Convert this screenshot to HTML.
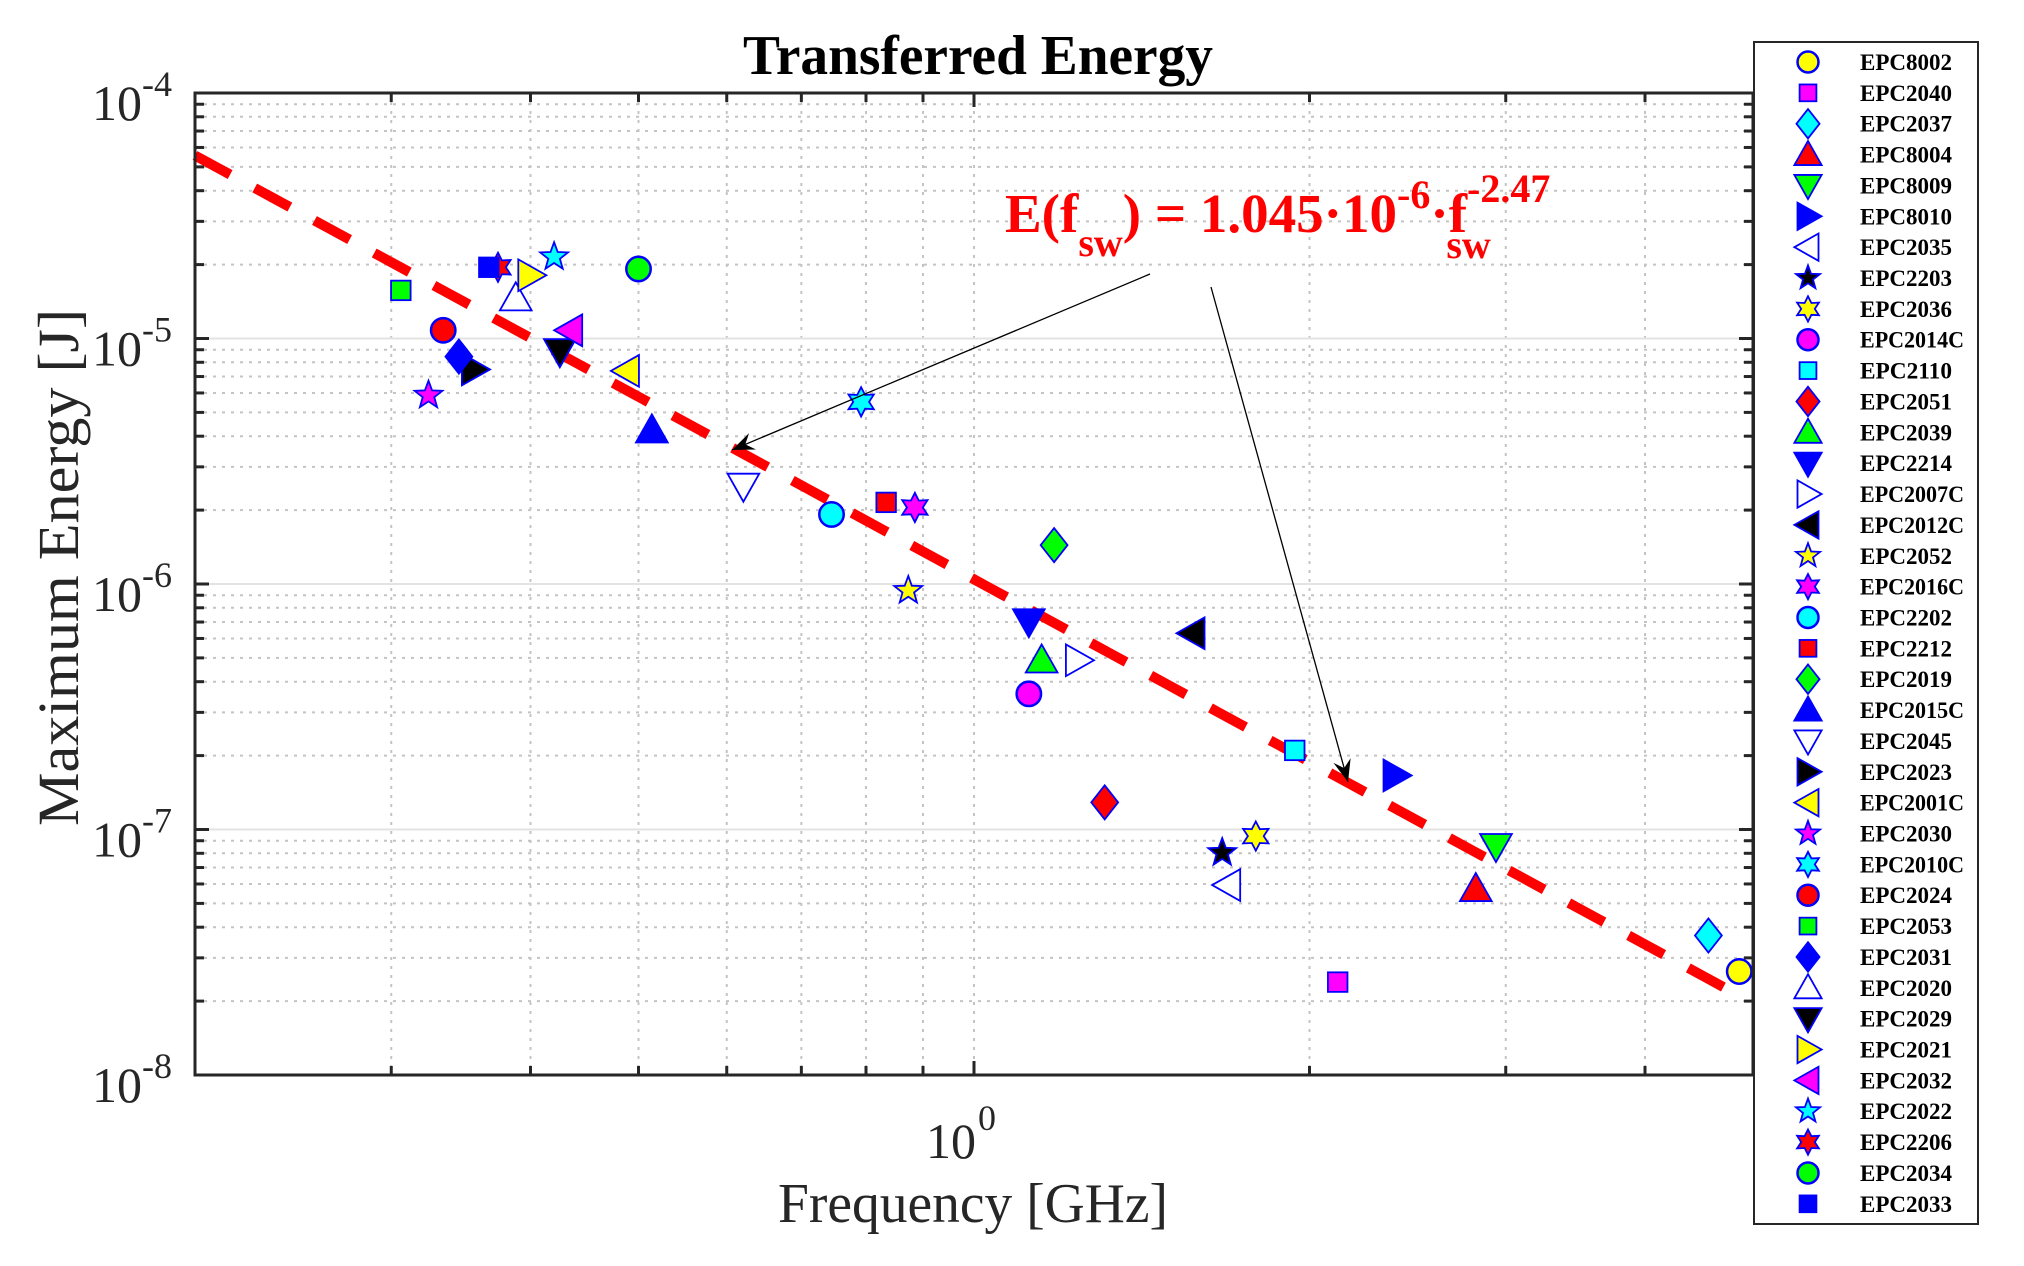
<!DOCTYPE html>
<html><head><meta charset="utf-8"><style>
html,body{margin:0;padding:0;background:#fff;}
svg{display:block;font-family:"Liberation Serif",serif;}
</style></head>
<body>
<svg id="chart" width="2024" height="1266" viewBox="0 0 2024 1266" xmlns="http://www.w3.org/2000/svg">
<rect x="0" y="0" width="2024" height="1266" fill="#fff"/>
<g id="grid"></g>
<g id="fit"></g>
<g id="marks"></g>
<g id="axes"></g>
<g id="annot">
  <line x1="1150" y1="274" x2="732" y2="450" stroke="#000" stroke-width="1.3"/>
  <line x1="1211" y1="287" x2="1348" y2="782" stroke="#000" stroke-width="1.3"/>
  <text x="1005" y="232" fill="#ff0000" font-weight="bold" font-size="55">E(f<tspan font-size="40" dy="24">sw</tspan><tspan dy="-24">) = 1.045·10</tspan><tspan font-size="40" dy="-24">-6</tspan><tspan dy="24">·f</tspan><tspan font-size="40" dy="-30">-2.47</tspan><tspan font-size="40" dx="-104" dy="56">sw</tspan></text>
</g>
<text x="743" y="74" textLength="470" lengthAdjust="spacingAndGlyphs" font-weight="bold" font-size="56" fill="#000">Transferred Energy</text>
<text x="778" y="1222" textLength="390" lengthAdjust="spacingAndGlyphs" font-size="56" fill="#262626">Frequency [GHz]</text>
<text x="0" y="0" transform="translate(78,826) rotate(-90)" textLength="517" lengthAdjust="spacingAndGlyphs" font-size="58" fill="#262626">Maximum Energy [J]</text>
<g id="legend"></g>
</svg>
<script>
const names=["EPC8002","EPC2040","EPC2037","EPC8004","EPC8009","EPC8010","EPC2035","EPC2203","EPC2036","EPC2014C","EPC2110","EPC2051","EPC2039","EPC2214","EPC2007C","EPC2012C","EPC2052","EPC2016C","EPC2202","EPC2212","EPC2019","EPC2015C","EPC2045","EPC2023","EPC2001C","EPC2030","EPC2010C","EPC2024","EPC2053","EPC2031","EPC2020","EPC2029","EPC2021","EPC2032","EPC2022","EPC2206","EPC2034","EPC2033"];
const freqs=[4.86,2.12,4.56,2.82,2.94,2.39,1.69,1.67,1.79,1.12,1.94,1.31,1.15,1.12,1.24,1.57,0.873,0.885,0.745,0.834,1.18,0.514,0.621,0.356,0.488,0.324,0.792,0.334,0.306,0.345,0.388,0.425,0.400,0.434,0.420,0.374,0.500,0.367];
const energies=[2.64e-8,2.39e-8,3.70e-8,5.73e-8,8.55e-8,1.66e-7,5.94e-8,8.04e-8,9.4e-8,3.57e-7,2.1e-7,1.29e-7,4.89e-7,7.04e-7,4.89e-7,6.3e-7,9.4e-7,2.05e-6,1.92e-6,2.15e-6,1.44e-6,4.23e-6,2.51e-6,7.48e-6,7.38e-6,5.87e-6,5.52e-6,1.08e-5,1.57e-5,8.44e-6,1.46e-5,8.86e-6,1.81e-5,1.08e-5,2.15e-5,1.95e-5,1.92e-5,1.95e-5];
const fitCoef=[1.045e-6,-2.47];
const fitRange=[0.2,4.75];
const xTicks=[1];
const yTicks=[-4,-5,-6,-7,-8];
const shapes=["o","s","d","^","v",">","<","p","h"];
const fills=["#ffff00","#ff00ff","#00ffff","#ff0000","#00ff00","#0000ff","#ffffff","#000000"];

const L=195,R=1753,T=93,B=1075;
const X0=Math.log10(0.2),X1=Math.log10(5),Y0=-8,Y1=-4;
const sx=v=>L+(Math.log10(v)-X0)/(X1-X0)*(R-L);
const sy=v=>B-(Math.log10(v)-Y0)/(Y1-Y0)*(B-T);
const NS="http://www.w3.org/2000/svg";
function mk(tag,attrs,parent){const e=document.createElementNS(NS,tag);for(const k in attrs)e.setAttribute(k,attrs[k]);parent.appendChild(e);return e;}

const grid=document.getElementById('grid');
const xs=[0.3,0.4,0.5,0.6,0.7,0.8,0.9,1,2,3,4];
xs.forEach(v=>{const x=sx(v);
  const l=mk('line',{x1:x,x2:x,y1:T,y2:B,stroke:'#c4c4c4','stroke-width':2,'stroke-dasharray':'3,6'},grid);
  
  
});
for(let d=-8;d<-4;d++){for(let m=1;m<10;m++){const v=m*Math.pow(10,d);const y=sy(v);
  const l=mk('line',{x1:L,x2:R,y1:y,y2:y,stroke:m==1?'#e3e3e3':'#c4c4c4','stroke-width':2,'stroke-dasharray':m==1?'none':'3,6'},grid);
  
  
}}

const fit=document.getElementById('fit');
let pts=[];for(let i=0;i<=60;i++){const f=fitRange[0]*Math.pow(fitRange[1]/fitRange[0],i/60);pts.push(sx(f)+','+sy(fitCoef[0]*Math.pow(f,fitCoef[1])));}
const fl=mk('polyline',{points:pts.join(' '),fill:'none',stroke:'#ff0000','stroke-width':10,'stroke-dasharray':'40,28'},fit);



function star(cx,cy,n,ro,ri){let p=[];for(let i=0;i<2*n;i++){const a=-Math.PI/2+i*Math.PI/n;const r=i%2?ri:ro;p.push((cx+r*Math.cos(a)).toFixed(1)+','+(cy+r*Math.sin(a)).toFixed(1));}return p.join(' ');}
function marker(parent,t,cx,cy,fill,s){
  const st={fill:fill,stroke:'#0000ff','stroke-width':1.8};let e;
  if(t=='o')e=mk('circle',Object.assign({cx,cy,r:10*s,'stroke-width':2.5},{fill,stroke:'#0000ff'}),parent);
  else if(t=='s')e=mk('rect',Object.assign({x:cx-8*s,y:cy-8*s,width:16*s,height:16*s},st),parent);
  else{let p;
    if(t=='d')p=`${cx},${cy-14*s} ${cx+11*s},${cy} ${cx},${cy+14*s} ${cx-11*s},${cy}`;
    else if(t=='^')p=`${cx},${cy-13*s} ${cx+13*s},${cy+10*s} ${cx-13*s},${cy+10*s}`;
    else if(t=='v')p=`${cx},${cy+13*s} ${cx+13*s},${cy-10*s} ${cx-13*s},${cy-10*s}`;
    else if(t=='>')p=`${cx+13*s},${cy} ${cx-10*s},${cy-13*s} ${cx-10*s},${cy+13*s}`;
    else if(t=='<')p=`${cx-13*s},${cy} ${cx+10*s},${cy-13*s} ${cx+10*s},${cy+13*s}`;
    else if(t=='p')p=star(cx,cy,5,12*s,5*s);
    else p=star(cx,cy,6,12*s,6.5*s);
    e=mk('polygon',Object.assign({points:p},st),parent);}
  return e;
}
const marks=document.getElementById('marks');
freqs.forEach((f,i)=>{const e=marker(marks,shapes[i%9],sx(f),sy(energies[i]),fills[i%8],1.22);
  
  
});

const ax=document.getElementById('axes');
const box=mk('rect',{x:L,y:T,width:R-L,height:B-T,fill:'none',stroke:'#262626','stroke-width':3},ax);


xs.forEach(v=>{const x=sx(v);const len=v==1?14:9;
  mk('line',{x1:x,x2:x,y1:B,y2:B-len,stroke:'#262626','stroke-width':3},ax);
  mk('line',{x1:x,x2:x,y1:T,y2:T+len,stroke:'#262626','stroke-width':3},ax);});
for(let d=-8;d<-4;d++){for(let m=1;m<10;m++){const y=sy(m*Math.pow(10,d));const len=m==1?14:9;
  mk('line',{x1:L,x2:L+len,y1:y,y2:y,stroke:'#262626','stroke-width':3},ax);
  mk('line',{x1:R,x2:R-len,y1:y,y2:y,stroke:'#262626','stroke-width':3},ax);}}
yTicks.forEach(p=>{const y=sy(Math.pow(10,p));
  const t=mk('text',{x:142,y:y+27,'text-anchor':'end','font-size':50,fill:'#262626'},ax);t.textContent='10';
  
  
  const s=mk('text',{x:142,y:y+3,'font-size':36,fill:'#262626'},ax);s.textContent=String(p);
  
  
});
xTicks.forEach(v=>{const x=sx(v);
  const t=mk('text',{x:x+2,y:1158,'text-anchor':'end','font-size':50,fill:'#262626'},ax);t.textContent='10';
  
  
  const s=mk('text',{x:x+4,y:1130,'font-size':36,fill:'#262626'},ax);s.textContent=String(Math.round(Math.log10(v)));
  
  
});

const an=document.getElementById('annot');
function head(x1,y1,x2,y2){const a=Math.atan2(y2-y1,x2-x1),l=24,w=0.38;
  const p=`${x2},${y2} ${x2-l*Math.cos(a-w)},${y2-l*Math.sin(a-w)} ${x2-0.6*l*Math.cos(a)},${y2-0.6*l*Math.sin(a)} ${x2-l*Math.cos(a+w)},${y2-l*Math.sin(a+w)}`;
  const e=mk('polygon',{points:p,fill:'#000'},an);
  
  }
head(1150,274,732,450);head(1211,287,1348,782);

const lg=document.getElementById('legend');
const lb=mk('rect',{x:1754,y:42,width:224,height:1182,fill:'#fff',stroke:'#262626','stroke-width':2},lg);


names.forEach((n,i)=>{const y=62+i*30.86;
  const g=mk('g',{},lg);
  
  
  marker(g,shapes[i%9],1808,y,fills[i%8],1.05);
  const t=mk('text',{x:1860,y:y+8,'font-size':23,'font-weight':'bold',fill:'#000',textLength:(n.length>7?104:92),lengthAdjust:'spacingAndGlyphs'},g);t.textContent=n;
});
</script>
</body></html>
